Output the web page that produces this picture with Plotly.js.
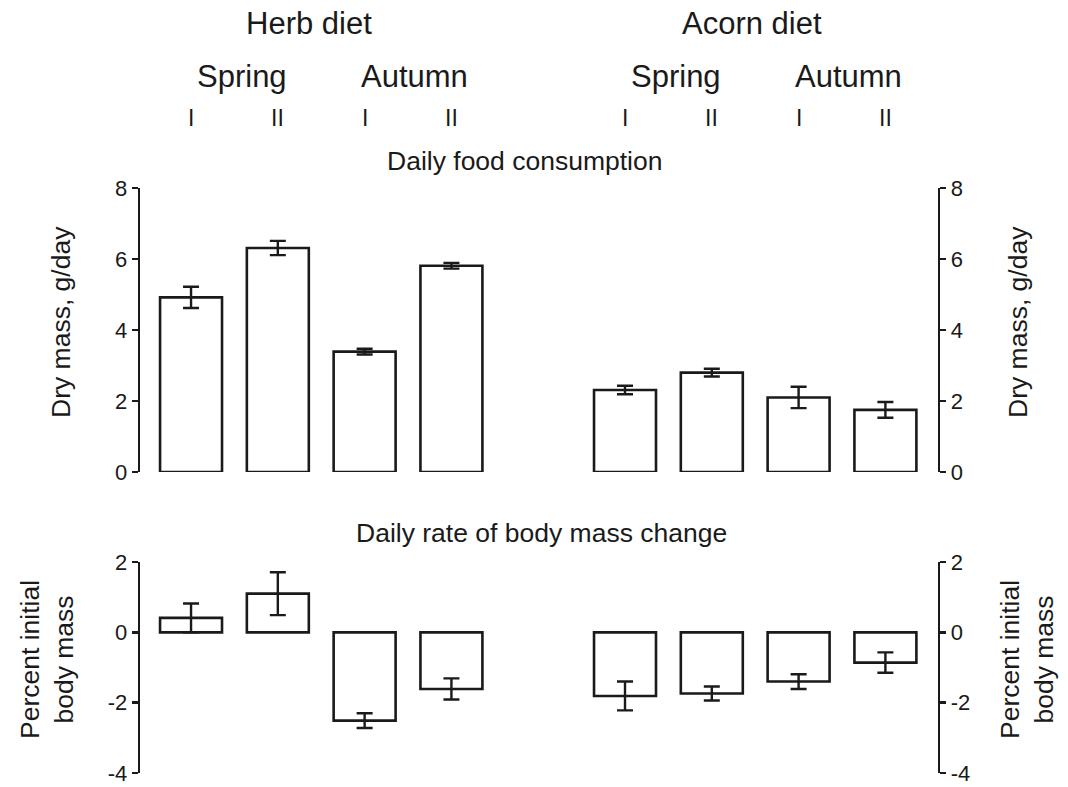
<!DOCTYPE html>
<html>
<head>
<meta charset="utf-8">
<script src="https://cdn.plot.ly/plotly-3.0.1.min.js"></script>
<style>html,body{margin:0;padding:0;background:#fff;}#chart{width:1068px;height:787px;}</style>
</head>
<body>
<div id="chart"></div>
<script>
// ---- data ----
var categories = ['Herb Spring I','Herb Spring II','Herb Autumn I','Herb Autumn II',
                  'Acorn Spring I','Acorn Spring II','Acorn Autumn I','Acorn Autumn II'];
var spacer = ' ';
var foodConsumption = [4.92, 6.31, 3.39, 5.81, 2.31, 2.80, 2.10, 1.75];
var foodError       = [0.30, 0.20, 0.08, 0.08, 0.12, 0.11, 0.30, 0.22];
var massChange      = [0.41, 1.10, -2.51, -1.61, -1.81, -1.74, -1.40, -0.86];
var massError       = [0.41, 0.61, 0.21, 0.30, 0.41, 0.20, 0.21, 0.29];
var periodLabels = ['I','II','I','II','I','II','I','II'];
var seasonLabels = ['Spring','Autumn','Spring','Autumn'];
var dietLabels = ['Herb diet','Acorn diet'];
var panelTitles = ['Daily food consumption','Daily rate of body mass change'];
var yTitleTop = 'Dry mass, g/day';
var yTitleBottom = 'Percent initial<br>body mass';
var topTickVals = [0, 2, 4, 6, 8];
var topTickText = ['0', '2', '4', '6', '8'];
var bottomTickVals = [-4, -2, 0, 2];
var bottomTickText = ['-4', '-2', '0', '2'];

// ---- layout helpers ----
var W = 1068, H = 787;
var FONT = 'Liberation Sans, Arial, sans-serif';
var INK = '#1a1a1a';
function py(px){ return 1 - px / H; }
function pxX(px){ return px / W; }
var catOrder = categories.slice(0,4).concat([spacer]).concat(categories.slice(4));

var barStyle = {color:'#ffffff', line:{color:INK, width:2.6}};
var errStyle = {type:'data', visible:true, color:INK, thickness:2.4, width:8};

var traces = [
  {type:'bar', x:categories, y:foodConsumption, xaxis:'x', yaxis:'y', width:0.714,
   marker:barStyle, error_y:Object.assign({array:foodError}, errStyle),
   cliponaxis:false, showlegend:false, hoverinfo:'y'},
  {type:'bar', x:categories, y:massChange, xaxis:'x2', yaxis:'y2', width:0.714,
   marker:barStyle, error_y:Object.assign({array:massError}, errStyle),
   cliponaxis:false, showlegend:false, hoverinfo:'y'},
  // invisible carriers for the right-hand axes
  {type:'scatter', x:categories, y:foodConsumption, xaxis:'x', yaxis:'y3', mode:'markers',
   marker:{opacity:0}, showlegend:false, hoverinfo:'skip'},
  {type:'scatter', x:categories, y:massChange, xaxis:'x2', yaxis:'y4', mode:'markers',
   marker:{opacity:0}, showlegend:false, hoverinfo:'skip'}
];

var xDomain = [pxX(140), pxX(938)];
var xRange = [-0.588, 8.606];
var topDom = [py(472), py(188)];
var botDom = [py(773), py(562)];

function yax(extra){
  return Object.assign({
    showgrid:false, zeroline:false, showline:true, linecolor:INK, linewidth:2.4,
    ticks:'outside', ticklen:6, tickwidth:2.4, tickcolor:INK, tickmode:'array',
    ticklabeloverflow:'allow',
    tickfont:{family:FONT, size:22, color:INK}, fixedrange:true, automargin:false
  }, extra);
}
function xax(extra){
  return Object.assign({
    type:'category', categoryorder:'array', categoryarray:catOrder,
    domain:xDomain, range:xRange, visible:false, fixedrange:true
  }, extra);
}

var annotations = [];
function ann(text, x, xref, ypx, size, extra){
  annotations.push(Object.assign({text:text, x:x, xref:xref, y:py(ypx), yref:'paper',
    xanchor:'center', yanchor:'middle', showarrow:false,
    font:{family:FONT, size:size, color:INK}}, extra||{}));
}
// diet headers
ann(dietLabels[0], 1.36, 'x', 23, 31);
ann(dietLabels[1], 6.46, 'x', 23, 31);
// seasons
var seasonX = [0.59, 2.58, 5.59, 7.57];
for (var i=0;i<seasonLabels.length;i++) ann(seasonLabels[i], seasonX[i], 'x', 77, 31);
// periods
for (var j=0;j<categories.length;j++) ann(periodLabels[j], categories[j], 'x', 118, 23);
// panel titles
ann(panelTitles[0], pxX(524), 'paper', 161, 26.5);
ann(panelTitles[1], pxX(541), 'paper', 533, 26.5);
// axis titles
ann(yTitleTop, pxX(61), 'paper', 322, 26.5, {textangle:-90});
ann(yTitleTop, pxX(1018), 'paper', 322, 26.5, {textangle:-90});
ann(yTitleBottom, pxX(47), 'paper', 660, 26.5, {textangle:-90});
ann(yTitleBottom, pxX(1027), 'paper', 660, 26.5, {textangle:-90});

var layout = {
  width:W, height:H, margin:{l:0,r:0,t:0,b:0,pad:0},
  paper_bgcolor:'#ffffff', plot_bgcolor:'rgba(0,0,0,0)',
  font:{family:FONT, color:INK},
  showlegend:false, bargap:0.3,
  xaxis: xax({anchor:'y'}),
  xaxis2: xax({anchor:'y2', matches:'x'}),
  yaxis: yax({domain:topDom, range:[0,8], anchor:'x', side:'left', tickvals:topTickVals, ticktext:topTickText}),
  yaxis3: yax({domain:topDom, range:[0,8], anchor:'x', side:'right', overlaying:'y', tickvals:topTickVals, ticktext:topTickText}),
  yaxis2: yax({domain:botDom, range:[-4,2], anchor:'x2', side:'left', tickvals:bottomTickVals, ticktext:bottomTickText}),
  yaxis4: yax({domain:botDom, range:[-4,2], anchor:'x2', side:'right', overlaying:'y2', tickvals:bottomTickVals, ticktext:bottomTickText}),
  annotations:annotations
};

Plotly.newPlot('chart', traces, layout, {staticPlot:true, displayModeBar:false});
</script>
</body>
</html>
